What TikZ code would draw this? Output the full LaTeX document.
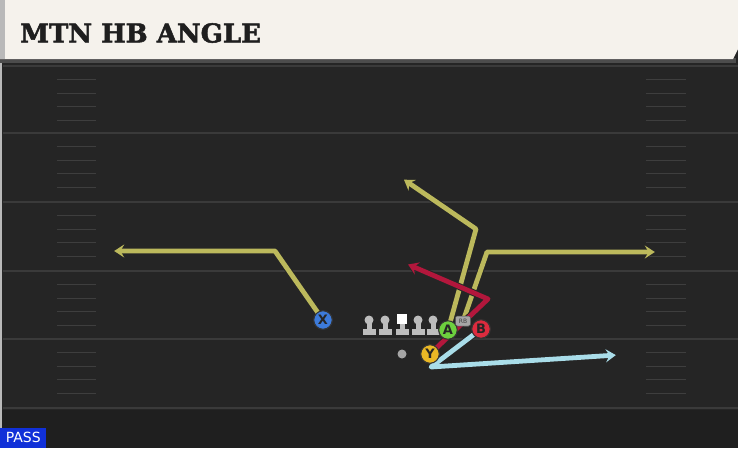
\documentclass[tikz,border=0pt]{standalone}
\usepackage{fontspec}
\newfontfamily\titlefont[FakeBold=2]{DejaVu Serif Bold}
\newfontfamily\labelfont{DejaVu Sans}
\usetikzlibrary{arrows.meta}
\definecolor{fieldbg}{HTML}{252525}
\definecolor{fieldbot}{HTML}{1F1F1F}
\definecolor{yardline}{HTML}{3A3A3A}
\definecolor{hashline}{HTML}{3E3E3E}
\definecolor{cream}{HTML}{F5F2EC}
\definecolor{olive}{HTML}{BCB95C}
\definecolor{crimson}{HTML}{B3173C}
\definecolor{skyblue}{HTML}{A9DDE9}
\definecolor{pgreen}{HTML}{6DD03E}
\definecolor{pred}{HTML}{DC2B3E}
\definecolor{pyellow}{HTML}{EAB825}
\definecolor{pblue}{HTML}{3D7BDA}
\definecolor{passblue}{HTML}{1030D8}
\definecolor{linegray}{HTML}{BDBDBD}
\tikzset{
  x=1pt, y=-1pt,
  routeout/.style={line width=6.8pt, black!85, line join=round, -{Stealth[length=12pt,width=16pt,inset=4.5pt]}},
  routein/.style={line width=4.8pt, #1, line join=round, shorten >=1.2pt, -{Stealth[length=10pt,width=13pt,inset=3.8pt]}},
  player/.style={circle, draw=black!80, line width=1pt, fill=#1, minimum size=18.5pt, inner sep=0pt, font=\labelfont\fontsize{13}{13}\selectfont\bfseries, text=black!85},
  tagbox/.style={rounded corners=2pt, fill=gray!70, draw=black!70, line width=0.5pt, minimum width=15pt, minimum height=10pt, inner sep=0pt, font=\labelfont\fontsize{6}{6}\selectfont, text=black!75},
  hashmark/.style={hashline, line width=1.3pt},
  yline/.style={yardline, line width=2pt}
}
\begin{document}
\begin{tikzpicture}
\useasboundingbox (0,0) rectangle (738,448);
% field
\fill[fieldbg] (0,0) rectangle (738,448);
\fill[fieldbot] (0,410) rectangle (738,448);
\draw[gray!55, line width=1.5pt] (1,60) -- (1,448);
% yard lines
\foreach \yy in {66,133,202,271,339,408} {
  \draw[yline] (3,\yy) -- (738,\yy);
}
% hash marks
\foreach \yy in {66,133,202,271,339} {
  \foreach \k in {1,2,3,4} {
    \draw[hashmark] (57,\yy+\k*13.6) -- (96,\yy+\k*13.6);
    \draw[hashmark] (646,\yy+\k*13.6) -- (686,\yy+\k*13.6);
  }
}
% title bar
\fill[black!70] (0,58) rectangle (736,63);
\fill[cream] (0,0) -- (738,0) -- (738,49) -- (733,59) -- (0,59) -- cycle;
\fill[gray!55] (0,0) rectangle (5,59);
\node[anchor=west, inner sep=0pt, font=\titlefont\fontsize{26}{26}\selectfont, text=black!88] (title) at (20,33) {MTN HB ANGLE};
% PASS tag
\node[anchor=south west, fill=passblue, text=white, inner sep=0pt, minimum width=46pt, minimum height=20pt, font=\labelfont\fontsize{14}{14}\selectfont] (pass) at (0,448) {PASS};

% route coordinates
\coordinate (xc) at (275,251);
\coordinate (xe) at (113,251);
\coordinate (ac) at (476,229);
\coordinate (ae) at (403,179);
\coordinate (rc) at (487,252);
\coordinate (re) at (656,252);
\coordinate (yc) at (488,299);
\coordinate (ye) at (407,264);
\coordinate (bc) at (431,367);
\coordinate (be) at (617,355);

% lineman figures
\foreach \lx in {369,385,418,433} {
  \fill[linegray] (\lx-6.5,329) rectangle (\lx+6.5,335);
  \fill[linegray] (\lx-2.5,321) rectangle (\lx+2.5,330);
  \fill[linegray] (\lx,320) circle (4.5pt);
}
\fill[linegray] (395.5,329) rectangle (408.5,335);
\fill[linegray] (399.5,322) rectangle (404.5,330);
\fill[white] (397,314) rectangle (407,324);
\fill[gray!70] (402,354) circle (4.5pt);

% players
\node[player=pblue] (X) at (323,320) {X};
\node[player=pgreen] (A) at (448,330) {A};
\node[player=pred] (B) at (481,329) {B};
\node[player=pyellow] (Y) at (430,354) {Y};
\node[tagbox] (RB) at (463,321) {RB};

% routes: outline then colour
\draw[routeout] (X.center) -- (xc) -- (xe);
\draw[routein=olive] (X.center) -- (xc) -- (xe);
\draw[routeout] (RB.center) -- (rc) -- (re);
\draw[routein=olive] (RB.center) -- (rc) -- (re);
\draw[routeout] (A.center) -- (ac) -- (ae);
\draw[routein=olive] (A.center) -- (ac) -- (ae);
\draw[routeout] (Y.center) -- (yc) -- (ye);
\draw[routein=crimson] (Y.center) -- (yc) -- (ye);
\draw[routeout] (B.center) -- (bc) -- (be);
\draw[routein=skyblue] (B.center) -- (bc) -- (be);

% players on top of routes
\node[player=pblue] at (X) {X};
\node[player=pgreen] at (A) {A};
\node[player=pred] at (B) {B};
\node[player=pyellow] at (Y) {Y};
\node[tagbox] at (RB) {RB};
\end{tikzpicture}
\end{document}
